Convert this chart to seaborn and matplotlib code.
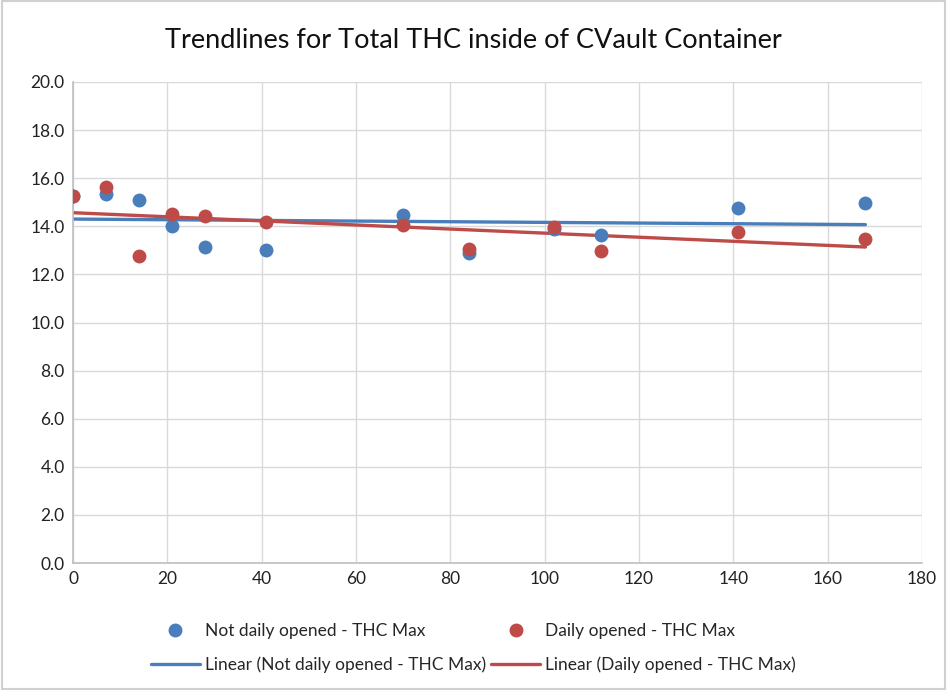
import matplotlib
matplotlib.use("Agg")
import matplotlib.pyplot as plt
import numpy as np
import pandas as pd
import seaborn as sns
from matplotlib.lines import Line2D

# days since start
days = [0, 7, 14, 21, 28, 41, 70, 84, 102, 112, 141, 168]
not_daily_thc = [15.25, 15.36, 15.11, 14.0, 13.14, 13.03, 14.49, 12.9, 13.9, 13.63, 14.76, 14.95]
daily_thc = [15.25, 15.64, 12.75, 14.53, 14.43, 14.18, 14.04, 13.04, 13.99, 12.97, 13.78, 13.49]

blue = "#4a7ebb"
red = "#be4b48"

df = pd.DataFrame({"day": days, "not_daily": not_daily_thc, "daily": daily_thc})

sns.set_style("white")
plt.rcParams["font.family"] = ["Lato", "DejaVu Sans"]

fig = plt.figure(figsize=(9.47, 6.9), dpi=100)
ax = fig.add_axes([73 / 947, 1 - 563 / 690, (922 - 73) / 947, (563 - 82) / 690])

sns.regplot(data=df, x="day", y="not_daily", ax=ax, ci=None, color=blue,
            scatter_kws={"s": 100, "alpha": 1, "linewidths": 0, "zorder": 3},
            line_kws={"lw": 2.4, "zorder": 2})
sns.regplot(data=df, x="day", y="daily", ax=ax, ci=None, color=red,
            scatter_kws={"s": 100, "alpha": 1, "linewidths": 0, "zorder": 4},
            line_kws={"lw": 2.4, "zorder": 2})

ax.set_xlim(0, 180)
ax.set_ylim(0, 20)
ax.set_xticks(np.arange(0, 181, 20))
ax.set_yticks(np.arange(0, 20.1, 2))
ax.set_yticklabels([f"{v:.1f}" for v in np.arange(0, 20.1, 2)])
ax.tick_params(axis="both", labelsize=12.5, colors="#222222", length=0, pad=6)
ax.grid(True, color="#d9d9d9", lw=1)
ax.set_axisbelow(True)
for side in ["top", "right"]:
    ax.spines[side].set_visible(False)
for side in ["left", "bottom"]:
    ax.spines[side].set_color("#bfbfbf")
    ax.spines[side].set_linewidth(1.2)
ax.set_xlabel("")
ax.set_ylabel("")

fig.suptitle("Trendlines for Total THC inside of CVault Container",
             y=1 - 40 / 690, va="center", fontsize=19.5, color="#111111")

handles = [
    Line2D([], [], ls="", marker="o", color=blue, ms=9),
    Line2D([], [], color=blue, lw=2.4),
    Line2D([], [], ls="", marker="o", color=red, ms=9),
    Line2D([], [], color=red, lw=2.4),
]
labels = ["Not daily opened - THC Max", "Linear (Not daily opened - THC Max)",
          "Daily opened - THC Max", "Linear (Daily opened - THC Max)"]
fig.legend(handles, labels, ncol=2, loc="center", bbox_to_anchor=(0.5, 1 - 648 / 690),
           frameon=False, fontsize=12.5, columnspacing=0.3, handlelength=2.8,
           handletextpad=0.3, labelspacing=1.0)

fig.patches.append(plt.Rectangle((0.002, 0.002), 0.996, 0.996, transform=fig.transFigure,
                                 fill=False, edgecolor="#d0d0d0", lw=1.5))

plt.savefig("out.png", dpi=100)
